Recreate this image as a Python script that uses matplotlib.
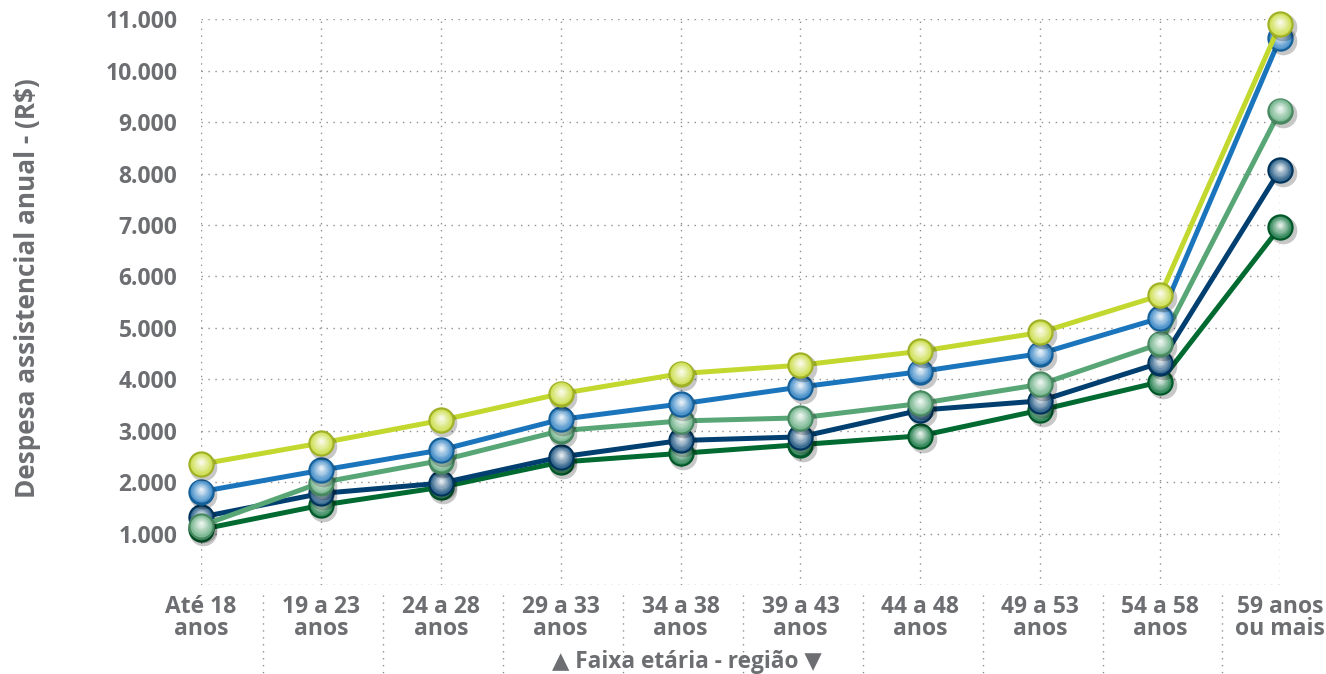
import matplotlib
matplotlib.use("Agg")
import matplotlib.pyplot as plt
import matplotlib.transforms as mtransforms
from matplotlib.colors import to_rgb
from matplotlib.lines import Line2D

categories = ["Até 18\nanos", "19 a 23\nanos", "24 a 28\nanos", "29 a 33\nanos", "34 a 38\nanos",
              "39 a 43\nanos", "44 a 48\nanos", "49 a 53\nanos", "54 a 58\nanos", "59 anos\nou mais"]

# series values (R$)
verde_escuro = [1080, 1550, 1900, 2390, 2560, 2730, 2900, 3400, 3950, 6960]
azul_escuro = [1320, 1780, 1980, 2490, 2810, 2880, 3400, 3580, 4320, 8070]
verde_claro = [1150, 1990, 2420, 3000, 3190, 3250, 3530, 3900, 4690, 9220]
azul = [1815, 2230, 2625, 3220, 3520, 3850, 4150, 4500, 5190, 10630]
amarelo = [2350, 2760, 3200, 3720, 4110, 4275, 4545, 4910, 5630, 10900]

series = [
    (verde_escuro, "#006a31"),
    (azul_escuro, "#003f70"),
    (verde_claro, "#58a676"),
    (azul, "#1b75bc"),
    (amarelo, "#c3d82e"),
]

y_ticks = [1000, 2000, 3000, 4000, 5000, 6000, 7000, 8000, 9000, 10000, 11000]
y_labels = ["1.000", "2.000", "3.000", "4.000", "5.000", "6.000",
            "7.000", "8.000", "9.000", "10.000", "11.000"]

GRAY = "#6d6e71"
FONT = ["Open Sans", "DejaVu Sans"]
plt.rcParams["font.family"] = FONT

W, H = 1326, 674
fig = plt.figure(figsize=(W / 100, H / 100), dpi=100)
ax = fig.add_axes([201 / W, (H - 585) / H, (1280 - 201) / W, (585 - 19.3) / H])
ax.set_xlim(0, 9)
ax.set_ylim(0, 11000)

grid_style = dict(color="#8f8f8f", linestyle=(0, (1, 4)), linewidth=1.0)
for s in ax.spines.values():
    s.set_visible(False)
ax.set_yticks(y_ticks)
ax.set_yticklabels(y_labels)
ax.set_xticks(range(len(categories)))
ax.set_xticklabels(categories, linespacing=0.88)
ax.grid(True, **grid_style)
ax.axhline(0, **grid_style)
ax.tick_params(length=0, colors=GRAY, labelsize=16.5)
ax.tick_params(axis="y", pad=17)
ax.tick_params(axis="x", pad=7)
for lab in ax.get_xticklabels() + ax.get_yticklabels():
    lab.set_fontweight("bold")

# dotted separators between the category labels
sep_tr = mtransforms.blended_transform_factory(ax.transData, ax.transAxes)
for i in range(len(categories) - 1):
    ax.add_line(Line2D([i + 0.52, i + 0.52], [-0.018, -0.16], transform=sep_tr,
                       clip_on=False, **grid_style))


def blend(c, t):
    r, g, b = to_rgb(c)
    return (r + (1 - r) * t, g + (1 - g) * t, b + (1 - b) * t)


def darken(c, f):
    r, g, b = to_rgb(c)
    return (r * f, g * f, b * f)


x = list(range(len(categories)))
base = 360
for k, (vals, color) in enumerate(series):
    z = 3 + k
    ax.plot(x, vals, color=color, linewidth=3.6, zorder=z, solid_capstyle="round")
    shadow = mtransforms.offset_copy(ax.transData, fig=fig, x=2.5, y=-3, units="dots")
    ax.scatter(x, vals, s=base * 1.1, color="black", alpha=0.22, linewidths=0,
               transform=shadow, zorder=z + 0.1, clip_on=False)
    ax.scatter(x, vals, s=base, color=darken(color, 0.82), linewidths=0,
               zorder=z + 0.2, clip_on=False)
    n = 7
    for i in range(1, n + 1):
        t = i / n
        tr = mtransforms.offset_copy(ax.transData, fig=fig, x=0, y=2.4 * t, units="dots")
        ax.scatter(x, vals, s=base * (1 - 0.85 * t) ** 2 * 0.9, color=blend(color, 0.12 + 0.75 * t),
                   linewidths=0, transform=tr, zorder=z + 0.2 + 0.01 * i, clip_on=False)

fig.text(28 / W, 1 - 288 / H, "Despesa assistencial anual - (R$)", rotation=90,
         ha="center", va="center", fontsize=18.8, fontweight="bold", color=GRAY)
fig.text(687 / W, 1 - 662 / H, "▲ Faixa etária - região ▼", ha="center", va="center",
         fontsize=16.3, fontweight="bold", color=GRAY)

fig.savefig("out.png", dpi=100)
